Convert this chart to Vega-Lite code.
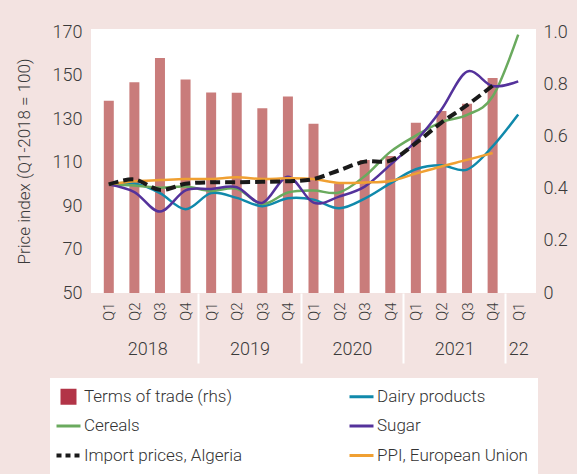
{
  "$schema": "https://vega.github.io/schema/vega-lite/v6.json",
  "width": 445,
  "height": 264,
  "autosize": {"type": "none"},
  "padding": {"left": 91, "top": 29, "right": 41, "bottom": 181},
  "background": "#f3e3e1",
  "config": {
    "view": {"stroke": null, "fill": "white"},
    "font": "Roboto",
    "axis": {"labelFont": "Roboto", "titleFont": "Roboto", "labelFontWeight": 300, "titleFontWeight": 300, "labelColor": "#3a3a3a", "titleColor": "#3a3a3a", "grid": false, "domain": false, "ticks": false},
    "legend": {"labelFont": "Roboto", "labelFontWeight": 300}
  },
  "datasets": {
    "tot": [
      {"idx": 0, "tot": 0.738}, {"idx": 1, "tot": 0.809}, {"idx": 2, "tot": 0.902}, {"idx": 3, "tot": 0.820},
      {"idx": 4, "tot": 0.770}, {"idx": 5, "tot": 0.769}, {"idx": 6, "tot": 0.709}, {"idx": 7, "tot": 0.754},
      {"idx": 8, "tot": 0.650}, {"idx": 9, "tot": 0.420}, {"idx": 10, "tot": 0.511}, {"idx": 11, "tot": 0.526},
      {"idx": 12, "tot": 0.654}, {"idx": 13, "tot": 0.699}, {"idx": 14, "tot": 0.726}, {"idx": 15, "tot": 0.825}
    ],
    "prices": [
      {"series": "Dairy products", "idx": 0, "v": 100}, {"series": "Dairy products", "idx": 1, "v": 100.5},
      {"series": "Dairy products", "idx": 2, "v": 96}, {"series": "Dairy products", "idx": 3, "v": 88.6},
      {"series": "Dairy products", "idx": 4, "v": 96}, {"series": "Dairy products", "idx": 5, "v": 93.8},
      {"series": "Dairy products", "idx": 6, "v": 90}, {"series": "Dairy products", "idx": 7, "v": 93.6},
      {"series": "Dairy products", "idx": 8, "v": 93}, {"series": "Dairy products", "idx": 9, "v": 89},
      {"series": "Dairy products", "idx": 10, "v": 93.5}, {"series": "Dairy products", "idx": 11, "v": 100.5},
      {"series": "Dairy products", "idx": 12, "v": 107}, {"series": "Dairy products", "idx": 13, "v": 108.8},
      {"series": "Dairy products", "idx": 14, "v": 106.8}, {"series": "Dairy products", "idx": 15, "v": 117.5},
      {"series": "Dairy products", "idx": 16, "v": 132.2},
      {"series": "Cereals", "idx": 0, "v": 100}, {"series": "Cereals", "idx": 1, "v": 99.5},
      {"series": "Cereals", "idx": 2, "v": 98.5}, {"series": "Cereals", "idx": 3, "v": 99},
      {"series": "Cereals", "idx": 4, "v": 97}, {"series": "Cereals", "idx": 5, "v": 98},
      {"series": "Cereals", "idx": 6, "v": 91}, {"series": "Cereals", "idx": 7, "v": 96.3},
      {"series": "Cereals", "idx": 8, "v": 97.2}, {"series": "Cereals", "idx": 9, "v": 96.3},
      {"series": "Cereals", "idx": 10, "v": 103.8}, {"series": "Cereals", "idx": 11, "v": 115},
      {"series": "Cereals", "idx": 12, "v": 122.5}, {"series": "Cereals", "idx": 13, "v": 128.7},
      {"series": "Cereals", "idx": 14, "v": 132}, {"series": "Cereals", "idx": 15, "v": 140.5},
      {"series": "Cereals", "idx": 16, "v": 169},
      {"series": "Sugar", "idx": 0, "v": 100}, {"series": "Sugar", "idx": 1, "v": 96.5},
      {"series": "Sugar", "idx": 2, "v": 87.5}, {"series": "Sugar", "idx": 3, "v": 97.3},
      {"series": "Sugar", "idx": 4, "v": 97.9}, {"series": "Sugar", "idx": 5, "v": 98.7},
      {"series": "Sugar", "idx": 6, "v": 91.5}, {"series": "Sugar", "idx": 7, "v": 103.6},
      {"series": "Sugar", "idx": 8, "v": 91.6}, {"series": "Sugar", "idx": 9, "v": 94.4},
      {"series": "Sugar", "idx": 10, "v": 99}, {"series": "Sugar", "idx": 11, "v": 109},
      {"series": "Sugar", "idx": 12, "v": 120}, {"series": "Sugar", "idx": 13, "v": 134.5},
      {"series": "Sugar", "idx": 14, "v": 152}, {"series": "Sugar", "idx": 15, "v": 145.3},
      {"series": "Sugar", "idx": 16, "v": 147.5},
      {"series": "Import prices, Algeria", "idx": 0, "v": 100}, {"series": "Import prices, Algeria", "idx": 1, "v": 102.3},
      {"series": "Import prices, Algeria", "idx": 2, "v": 97.5}, {"series": "Import prices, Algeria", "idx": 3, "v": 100.3},
      {"series": "Import prices, Algeria", "idx": 4, "v": 101}, {"series": "Import prices, Algeria", "idx": 5, "v": 101},
      {"series": "Import prices, Algeria", "idx": 6, "v": 101.2}, {"series": "Import prices, Algeria", "idx": 7, "v": 101.5},
      {"series": "Import prices, Algeria", "idx": 8, "v": 102.5}, {"series": "Import prices, Algeria", "idx": 9, "v": 106.5},
      {"series": "Import prices, Algeria", "idx": 10, "v": 110.5}, {"series": "Import prices, Algeria", "idx": 11, "v": 111},
      {"series": "Import prices, Algeria", "idx": 12, "v": 119}, {"series": "Import prices, Algeria", "idx": 13, "v": 128.5},
      {"series": "Import prices, Algeria", "idx": 14, "v": 136.5}, {"series": "Import prices, Algeria", "idx": 15, "v": 145.5},
      {"series": "PPI, European Union", "idx": 0, "v": 100}, {"series": "PPI, European Union", "idx": 1, "v": 101.5},
      {"series": "PPI, European Union", "idx": 2, "v": 102}, {"series": "PPI, European Union", "idx": 3, "v": 102.5},
      {"series": "PPI, European Union", "idx": 4, "v": 102.5}, {"series": "PPI, European Union", "idx": 5, "v": 103.3},
      {"series": "PPI, European Union", "idx": 6, "v": 102.5}, {"series": "PPI, European Union", "idx": 7, "v": 102.8},
      {"series": "PPI, European Union", "idx": 8, "v": 102.5}, {"series": "PPI, European Union", "idx": 9, "v": 100.7},
      {"series": "PPI, European Union", "idx": 10, "v": 100.9}, {"series": "PPI, European Union", "idx": 11, "v": 101.6},
      {"series": "PPI, European Union", "idx": 12, "v": 105}, {"series": "PPI, European Union", "idx": 13, "v": 108.3},
      {"series": "PPI, European Union", "idx": 14, "v": 111.3}, {"series": "PPI, European Union", "idx": 15, "v": 114.5}
    ]
  },
  "layer": [
    {
      "data": {"name": "tot"},
      "mark": {"type": "bar", "width": 10, "color": "#c97c7b"},
      "encoding": {
        "x": {
          "field": "idx", "type": "quantitative",
          "scale": {"domain": [-0.5, 16.5], "nice": false, "zero": false},
          "axis": {
            "orient": "bottom", "title": null,
            "values": [0, 1, 2, 3, 4, 5, 6, 7, 8, 9, 10, 11, 12, 13, 14, 15, 16],
            "labelExpr": "'Q' + (datum.value % 4 + 1)",
            "labelAngle": -90, "labelAlign": "right", "labelBaseline": "middle",
            "labelPadding": 9, "labelFontSize": 15,
            "labelOverlap": false, "labelFlush": false, "labelBound": false
          }
        },
        "y": {
          "field": "tot", "type": "quantitative",
          "scale": {"domain": [0, 1.0134], "nice": false},
          "axis": {
            "orient": "right", "title": null,
            "values": [0, 0.2, 0.4, 0.6, 0.8, 1],
            "labelExpr": "datum.value == 0 ? '0' : format(datum.value, '.1f')",
            "labelPadding": 7, "labelFontSize": 18
          }
        }
      }
    },
    {
      "data": {"name": "prices"},
      "transform": [{"filter": "datum.series !== 'Import prices, Algeria'"}],
      "mark": {"type": "line", "interpolate": "cardinal", "strokeWidth": 2.5},
      "encoding": {
        "x": {
          "field": "idx", "type": "quantitative",
          "axis": {
            "orient": "bottom", "title": null,
            "values": [1.5, 3.5, 5.5, 7.5, 9.5, 11.5, 13.5, 15.5, 16],
            "labelExpr": "datum.value == 1.5 ? '2018' : datum.value == 5.5 ? '2019' : datum.value == 9.5 ? '2020' : datum.value == 13.5 ? '2021' : datum.value == 16 ? '22' : ''",
            "ticks": true, "tickColor": "white", "tickWidth": 2, "tickSize": 70,
            "tickOpacity": {"condition": {"test": "datum.value % 4 == 3.5", "value": 1}, "value": 0},
            "labelAngle": 0, "labelPadding": -23, "labelFontSize": 18,
            "labelOverlap": false, "labelFlush": false, "labelBound": false
          }
        },
        "y": {
          "field": "v", "type": "quantitative",
          "scale": {"domain": [50, 171.6], "nice": false, "zero": false},
          "axis": {
            "orient": "left",
            "title": "Price index (Q1-2018 = 100)",
            "titleFontSize": 17, "titlePadding": 19,
            "values": [50, 70, 90, 110, 130, 150, 170],
            "labelPadding": 9, "labelFontSize": 18
          }
        },
        "color": {
          "field": "series", "type": "nominal",
          "scale": {
            "domain": ["Terms of trade (rhs)", "Cereals", "Import prices, Algeria", "Dairy products", "Sugar", "PPI, European Union"],
            "range": ["#b23447", "#6aaa5e", "#1a1a1a", "#1089ab", "#54329b", "#f0a032"]
          },
          "legend": {
            "title": null, "orient": "none", "legendX": -41, "legendY": 349,
            "columns": 2, "columnPadding": 100, "rowPadding": 11.5, "padding": 10,
            "fillColor": "white", "labelFontSize": 17, "labelColor": "#333333",
            "labelLimit": 300, "labelOffset": 7,
            "symbolType": "stroke", "symbolSize": 576, "symbolStrokeWidth": 3,
            "encode": {
              "symbols": {
                "update": {
                  "shape": {"signal": "datum.value === 'Terms of trade (rhs)' ? 'square' : 'stroke'"},
                  "size": {"signal": "datum.value === 'Terms of trade (rhs)' ? 256 : 576"},
                  "fill": {"signal": "datum.value === 'Terms of trade (rhs)' ? '#b23447' : 'transparent'"},
                  "strokeDash": {"signal": "datum.value === 'Import prices, Algeria' ? [5, 4] : [1, 0]"},
                  "strokeWidth": {"signal": "datum.value === 'Import prices, Algeria' ? 4 : (datum.value === 'Terms of trade (rhs)' ? 0 : 3)"}
                }
              }
            }
          }
        }
      }
    },
    {
      "data": {"name": "prices"},
      "transform": [{"filter": "datum.series === 'Import prices, Algeria'"}],
      "mark": {"type": "line", "interpolate": "cardinal", "strokeWidth": 4, "strokeDash": [10, 5]},
      "encoding": {
        "x": {"field": "idx", "type": "quantitative", "axis": null},
        "y": {"field": "v", "type": "quantitative", "scale": {"domain": [50, 171.6], "nice": false, "zero": false}, "axis": null},
        "color": {"field": "series", "type": "nominal", "legend": null}
      }
    }
  ],
  "resolve": {"scale": {"y": "independent"}, "axis": {"x": "independent"}}
}
